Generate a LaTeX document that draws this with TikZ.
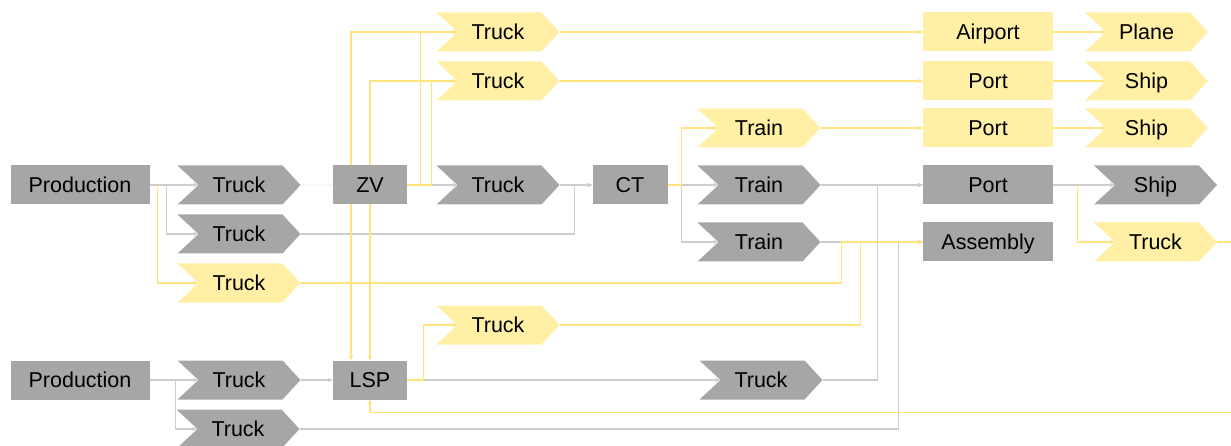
\documentclass[tikz,border=0pt]{standalone}
\usepackage{fontspec}
\setmainfont{Liberation Sans}
\usetikzlibrary{arrows.meta,backgrounds}
\definecolor{boxgray}{RGB}{166,166,166}
\definecolor{boxyellow}{RGB}{255,240,165}
\definecolor{linegray}{RGB}{205,205,205}
\definecolor{lineyellow}{RGB}{255,228,125}
\definecolor{linefaint}{RGB}{243,243,243}
\tikzset{
  lbl/.style={inner sep=0pt, text height=15.5pt, text depth=0pt,
    font=\fontsize{21.5}{25}\selectfont, text=black},
  boxG/.style={lbl, fill=boxgray, minimum height=39pt, minimum width=#1},
  boxY/.style={lbl, fill=boxyellow, minimum height=39pt, minimum width=#1},
  chevron/.style={lbl, minimum height=39pt, minimum width=123pt,
    path picture={\fill[#1]
      (path picture bounding box.north west)
      -- ([xshift=-18pt]path picture bounding box.north east)
      -- (path picture bounding box.east)
      -- ([xshift=-18pt]path picture bounding box.south east)
      -- (path picture bounding box.south west)
      -- ([xshift=21pt]path picture bounding box.west) -- cycle;}},
  chevG/.style={chevron=boxgray},
  chevY/.style={chevron=boxyellow},
  tip/.style={-{Stealth[length=5pt,width=4.5pt]}},
  lg/.style={draw=linegray, line width=1.2pt, tip},
  ly/.style={draw=lineyellow, line width=1.2pt, tip},
  lyboth/.style={draw=lineyellow, line width=1.2pt,
    {Stealth[length=5pt,width=4.5pt]}-{Stealth[length=5pt,width=4.5pt]}},
  lfaint/.style={draw=linefaint, line width=1.2pt, densely dotted},
}
\begin{document}
\begin{tikzpicture}[x=1pt,y=-1pt]
\useasboundingbox (0,0) rectangle (1231,446);

% sources
\node[boxG=139pt] (P1) at (80,185) {Production};
\node[boxG=139pt] (P2) at (80,380) {Production};

% first leg
\node[chevG] (TA) at (239,185) {Truck};
\node[chevG] (TB) at (239,234) {Truck};
\node[chevY] (TC) at (239,283) {Truck};
\node[chevG] (TD) at (239,380) {Truck};
\node[chevG] (TE) at (238,429) {Truck};

% hubs
\node[boxG=74pt] (ZV) at (370,185) {ZV};
\node[boxG=74pt] (LSP) at (370,380) {LSP};

% second leg
\node[chevY] (U1) at (498,32) {Truck};
\node[chevY] (U2) at (498,81) {Truck};
\node[chevG] (U3) at (498,185) {Truck};
\node[chevY] (U4) at (498,325) {Truck};

\node[boxG=75pt] (CT) at (630,185) {CT};

% rail and road
\node[chevY] (R1) at (759,128) {Train};
\node[chevG] (R2) at (759,185) {Train};
\node[chevG] (R3) at (759,242) {Train};
\node[chevG] (V1) at (761,380) {Truck};

% destinations
\node[boxY=130pt] (A1) at (988,32) {Airport};
\node[boxY=130pt] (A2) at (988,81) {Port};
\node[boxY=130pt] (A3) at (988,128) {Port};
\node[boxG=130pt] (A4) at (988,185) {Port};
\node[boxG=130pt] (A5) at (988,242) {Assembly};

% final leg
\node[chevY] (S1) at (1146.5,32) {Plane};
\node[chevY] (S2) at (1146.5,81) {Ship};
\node[chevY] (S3) at (1146.5,128) {Ship};
\node[chevG] (S4) at (1155.5,185) {Ship};
\node[chevY] (S5) at (1155.5,242) {Truck};

\begin{pgfonlayer}{background}
  % grey flows
  \draw[lfaint] (TA.east) -- (ZV.west);
  \draw[lg] (P1.east) -- ([xshift=21pt]TA.west);
  \draw[lg] ([xshift=17pt]P1.east) |- ([xshift=21pt]TB.west);
  \draw[lg] (TB.east) -| ([xshift=-18pt]CT.west) -- (CT.west);
  \draw[lg] (ZV.east) -- ([xshift=21pt]U3.west);
  \draw[lg] (U3.east) -- (CT.west);
  \draw[lg] (CT.east) -- ([xshift=21pt]R2.west);
  \draw[lg] ([xshift=14pt]CT.east) |- ([xshift=21pt]R3.west);
  \draw[lg] (R2.east) -- (A4.west);
  \draw[lg] (V1.east) -| ([xshift=-45pt]A4.west) -- (A4.west);
  \draw[lg] (R3.east) -- (A5.west);
  \draw[lg] (TE.east) -| ([xshift=-24pt]A5.west) -- (A5.west);
  \draw[lg] (P2.east) -- ([xshift=21pt]TD.west);
  \draw[lg] ([xshift=26pt]P2.east) |- ([xshift=21pt]TE.west);
  \draw[lg] (TD.east) -- (LSP.west);
  \draw[lg] (LSP.east) -- ([xshift=21pt]V1.west);
  \draw[lg] (A4.east) -- ([xshift=21pt]S4.west);

  % yellow flows
  \draw[ly] ([xshift=8pt]P1.east) |- ([xshift=21pt]TC.west);
  \draw[ly] (ZV.east) -| ([xshift=-16pt]U1.west) -- ([xshift=21pt]U1.west);
  \draw[ly] (ZV.east) -| ([xshift=-5pt]U2.west) -- ([xshift=21pt]U2.west);
  \draw[lyboth] ([xshift=-19pt]LSP.north) |- ([xshift=21pt]U1.west);
  \draw[lyboth] (LSP.north) |- ([xshift=21pt]U2.west);
  \draw[ly] (CT.east) -- ([xshift=14pt]CT.east) |- ([xshift=21pt]R1.west);
  \draw[ly] (R1.east) -- (A3.west);
  \draw[ly] (U1.east) -- (A1.west);
  \draw[ly] (U2.east) -- (A2.west);
  \draw[ly] (A1.east) -- ([xshift=21pt]S1.west);
  \draw[ly] (A2.east) -- ([xshift=21pt]S2.west);
  \draw[ly] (A3.east) -- ([xshift=21pt]S3.west);
  \draw[ly] ([xshift=24pt]A4.east) |- ([xshift=21pt]S5.west);
  \draw[ly] (TC.east) -| ([xshift=-81pt]A5.west) -- (A5.west);
  \draw[ly] (U4.east) -| ([xshift=-62pt]A5.west) -- (A5.west);
  \draw[ly] (LSP.east) -- ([xshift=16pt]LSP.east) |- ([xshift=21pt]U4.west);
  \draw[ly] (S5.east) -- ++(40,0) |- ([yshift=-13pt]LSP.south) -- (LSP.south);
\end{pgfonlayer}
\end{tikzpicture}
\end{document}
